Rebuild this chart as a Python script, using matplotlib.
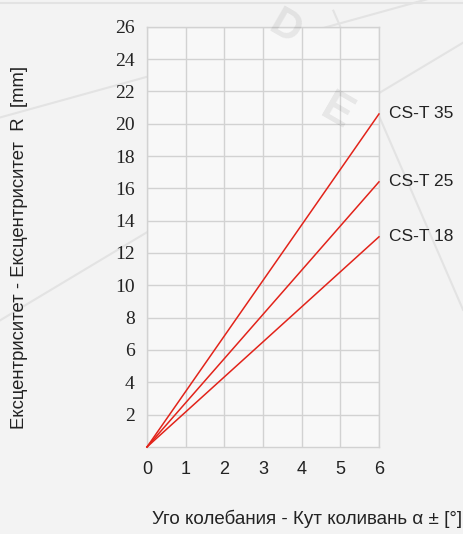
import numpy as np
from matplotlib import pyplot as plt

# angle of oscillation (deg) and eccentricity at 6 deg for each type
angle = [0, 6]
series_names = ['CS-T 35', 'CS-T 25', 'CS-T 18']
ecc_end = [20.6, 16.4, 13.0]
x_ticks = [0, 1, 2, 3, 4, 5, 6]
y_ticks = [2, 4, 6, 8, 10, 12, 14, 16, 18, 20, 22, 24, 26]

grid_col = '#d2d2d2'
red = '#e2231a'

fig = plt.figure(figsize=(4.63, 5.34), dpi=100, facecolor='#f3f3f3')
ax = fig.add_axes([0.3175, 0.163, 0.501, 0.787])
ax.set_facecolor('#f8f8f8')

# faint watermark lines / letters
for (x0, y0, x1, y1) in [(0.0, 0.78, 1.0, 1.02), (0.0, 0.40, 1.0, 0.92), (0.72, 0.98, 1.0, 0.42),
                         (0.0, 0.995, 1.0, 0.995)]:
    fig.add_artist(plt.Line2D([x0, x1], [y0, y1], color='#e3e3e3', lw=1.5, zorder=0))
fig.text(0.615, 0.948, 'D', fontsize=30, fontweight='bold', color='k', alpha=0.07,
         rotation=-30, ha='center', va='center', family='Liberation Sans')
fig.text(0.728, 0.79, 'E', fontsize=32, fontweight='bold', color='k', alpha=0.07,
         rotation=-30, ha='center', va='center', family='Liberation Sans')

for name, e in zip(series_names, ecc_end):
    ax.plot(angle, [0, e], color=red, lw=1.1, zorder=3, clip_on=False)
    ax.text(6.27, e, name, fontsize=12.5, family='Liberation Sans', va='center', ha='left', color='#222222')

ax.set_xlim(0, 6)
ax.set_ylim(0, 26)
ax.set_xticks(x_ticks)
ax.set_yticks(y_ticks)
ax.set_xticklabels([str(t) for t in x_ticks], family='Liberation Sans', fontsize=13, color='#222222')
ax.set_yticklabels([str(t) for t in y_ticks], family='Liberation Serif', fontsize=14, color='#222222')
ax.tick_params(axis='both', length=0)
ax.tick_params(axis='y', pad=9)
ax.tick_params(axis='x', pad=10)
ax.grid(True, color=grid_col, lw=1)
ax.set_axisbelow(True)
for s in ax.spines.values():
    s.set_color(grid_col)
    s.set_linewidth(1)

fig.text(0.043, 0.536, 'Ексцентриситет - Ексцентриситет  R  [mm]', rotation=90,
         family='Liberation Sans', fontsize=13.3, ha='center', va='center', color='#222222')
fig.text(0.328, 0.012, 'Уго колебания - Кут коливань α ± [°]',
         family='Liberation Sans', fontsize=13.5, ha='left', va='bottom', color='#222222')

plt.savefig('out.png', dpi=100, facecolor=fig.get_facecolor())
